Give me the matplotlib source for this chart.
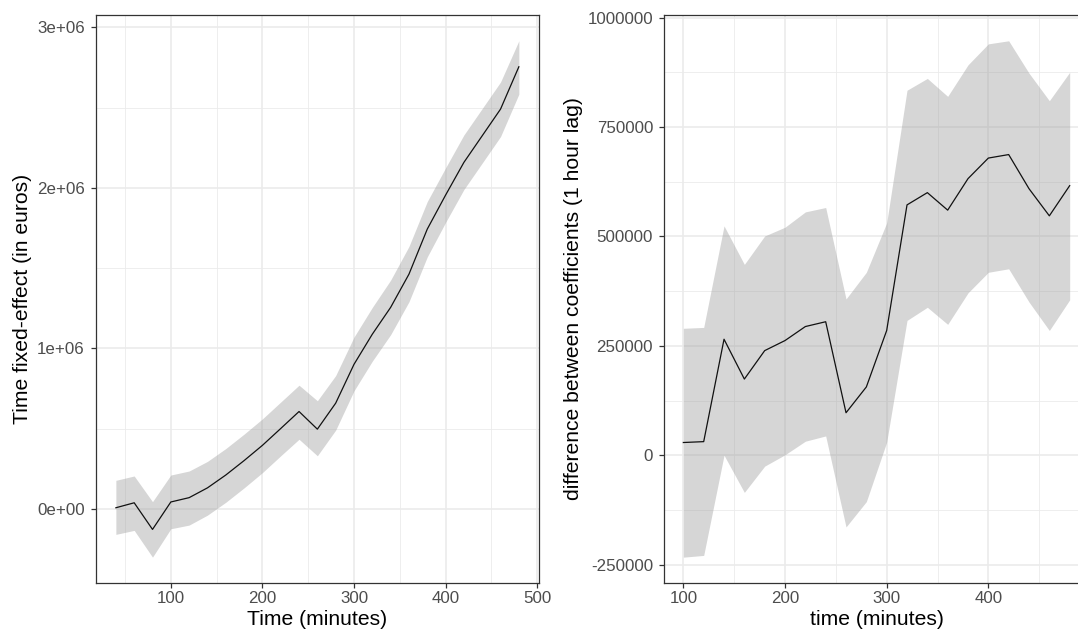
import numpy as np
import matplotlib
matplotlib.use("Agg")
import matplotlib.pyplot as plt

# Left panel: time fixed-effect with confidence band (in 1e6 euros)
time_fe = [40, 60, 80, 100, 120, 140, 160, 180, 200, 220, 240, 260,
           280, 300, 320, 340, 360, 380, 400, 420, 440, 460, 480]
fe_est = [0.006, 0.037, -0.129, 0.042, 0.069, 0.13, 0.21, 0.30, 0.395, 0.50, 0.606, 0.496,
          0.658, 0.90, 1.088, 1.255, 1.462, 1.743, 1.955, 2.159, 2.325, 2.491, 2.755]
fe_upper = [0.177, 0.204, 0.044, 0.21, 0.235, 0.295, 0.375, 0.465, 0.56, 0.665, 0.77, 0.673,
            0.83, 1.07, 1.255, 1.425, 1.635, 1.915, 2.125, 2.33, 2.495, 2.66, 2.917]
fe_lower = [-0.16, -0.135, -0.302, -0.125, -0.102, -0.04, 0.04, 0.13, 0.225, 0.33, 0.433, 0.33,
            0.49, 0.735, 0.92, 1.085, 1.29, 1.57, 1.785, 1.99, 2.155, 2.32, 2.584]

fe_yticks = [0, 1e6, 2e6, 3e6]
fe_yticklabels = ["0e+00", "1e+06", "2e+06", "3e+06"]
fe_xticks = [100, 200, 300, 400, 500]

# Right panel: difference between coefficients (1 hour lag), in thousands
time_diff = [100, 120, 140, 160, 180, 200, 220, 240, 260, 280,
             300, 320, 340, 360, 380, 400, 420, 440, 460, 480]
diff_est = [29, 31, 265, 174, 239, 262, 294, 305, 97, 156,
            285, 572, 600, 560, 632, 679, 687, 609, 547, 616]
diff_upper = [290, 292, 524, 436, 501, 521, 556, 566, 357, 418,
              531, 834, 861, 820, 892, 940, 947, 873, 810, 875]
diff_lower = [-233, -229, 0, -85, -25, 1, 32, 44, -164, -106,
              30, 308, 338, 299, 371, 418, 426, 350, 285, 355]

diff_yticks = [-250000, 0, 250000, 500000, 750000, 1000000]
diff_yticklabels = ["-250000", "0", "250000", "500000", "750000", "1000000"]
diff_xticks = [100, 200, 300, 400]

BORDER = "#333333"
GRID = "#EBEBEB"
TICKTEXT = "#4D4D4D"
TITLE_SIZE = 15.2
TICK_SIZE = 12.2

plt.rcParams["font.family"] = ["Liberation Sans", "DejaVu Sans"]


def style_axes(ax, xticks, yticks, yticklabels):
    # theme_bw look: grey border, light major + minor grid
    ax.set_xticks(xticks)
    ax.set_yticks(yticks)
    ax.set_yticklabels(yticklabels)
    xmaj = np.array(xticks, dtype=float)
    ymaj = np.array(yticks, dtype=float)
    xstep = xmaj[1] - xmaj[0]
    ystep = ymaj[1] - ymaj[0]
    xmin, xmax = ax.get_xlim()
    ymin, ymax = ax.get_ylim()
    xminor = [v for v in np.arange(xmaj[0] - xstep / 2, xmaj[-1] + xstep, xstep) if xmin < v < xmax]
    yminor = [v for v in np.arange(ymaj[0] - ystep / 2, ymaj[-1] + ystep, ystep) if ymin < v < ymax]
    ax.set_xticks(xminor, minor=True)
    ax.set_yticks(yminor, minor=True)
    ax.set_xlim(xmin, xmax)
    ax.set_ylim(ymin, ymax)
    ax.grid(which="major", color=GRID, linewidth=1.2)
    ax.grid(which="minor", color=GRID, linewidth=0.6)
    ax.set_axisbelow(True)
    ax.tick_params(which="major", direction="out", length=3.5, width=0.9,
                   color=BORDER, labelcolor=TICKTEXT, labelsize=TICK_SIZE)
    ax.tick_params(axis="x", which="major", pad=2.6)
    ax.tick_params(axis="y", which="major", pad=4.4)
    ax.tick_params(which="minor", length=0)
    for sp in ax.spines.values():
        sp.set_color(BORDER)
        sp.set_linewidth(0.9)


def main():
    fig = plt.figure(figsize=(10.78, 6.37), dpi=100)
    fig.patch.set_facecolor("white")

    ax1 = fig.add_axes([0.0888, 0.0848, 0.4112, 0.8917])
    fe = np.array(fe_est) * 1e6
    ax1.fill_between(time_fe, np.array(fe_lower) * 1e6, np.array(fe_upper) * 1e6,
                     color="#999999", alpha=0.4, linewidth=0, zorder=2)
    ax1.plot(time_fe, fe, color="#111111", linewidth=0.9, zorder=3)
    style_axes(ax1, fe_xticks, fe_yticks, fe_yticklabels)
    ax1.set_xlabel("Time (minutes)", fontsize=TITLE_SIZE, labelpad=2.2)
    ax1.set_ylabel("Time fixed-effect (in euros)", fontsize=TITLE_SIZE, labelpad=3.5)

    # right panel runs past the figure edge, as in the original export
    ax2 = fig.add_axes([0.616, 0.0848, 0.3942, 0.8917])
    ax2.fill_between(time_diff, np.array(diff_lower) * 1e3, np.array(diff_upper) * 1e3,
                     color="#999999", alpha=0.4, linewidth=0, zorder=2)
    ax2.plot(time_diff, np.array(diff_est) * 1e3, color="#111111", linewidth=0.9, zorder=3)
    style_axes(ax2, diff_xticks, diff_yticks, diff_yticklabels)
    ax2.set_xlabel("time (minutes)", fontsize=TITLE_SIZE, labelpad=2.2)
    ax2.set_ylabel("difference between coefficients (1 hour lag)", fontsize=TITLE_SIZE, labelpad=3.5)

    fig.savefig("out.png", dpi=100)


if __name__ == "__main__":
    main()
